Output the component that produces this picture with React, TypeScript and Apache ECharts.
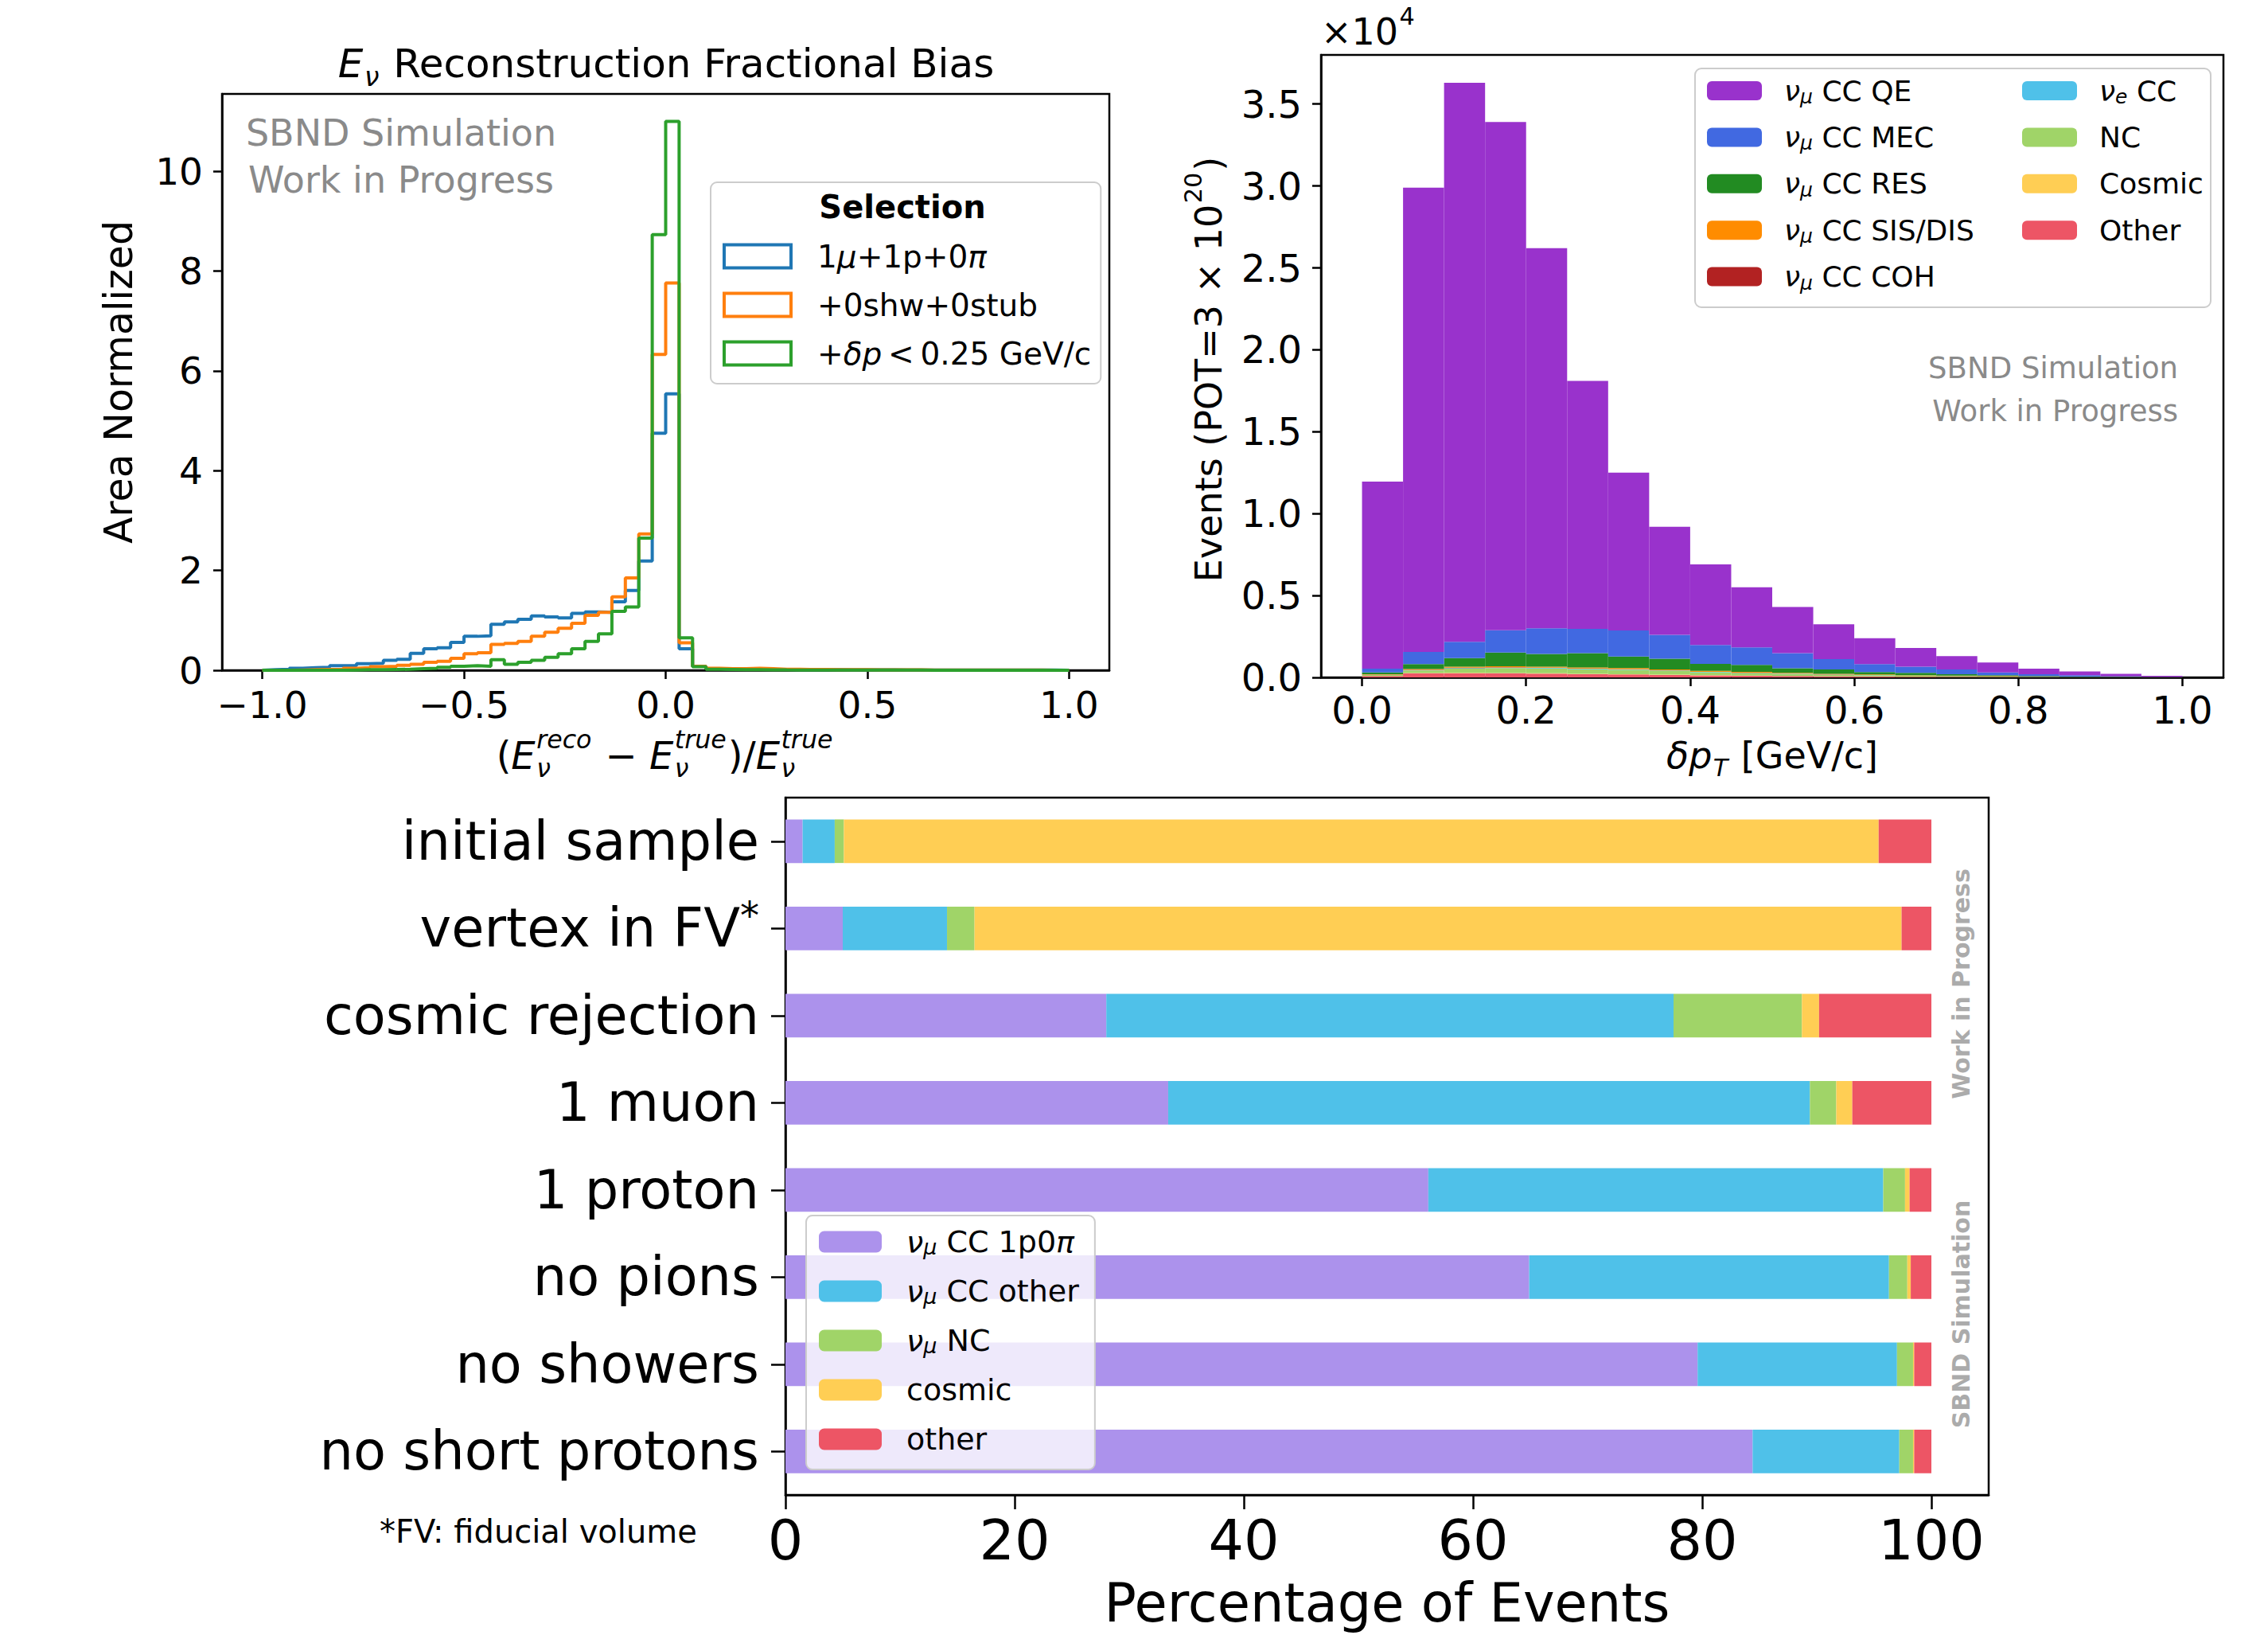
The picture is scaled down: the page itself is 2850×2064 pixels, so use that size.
import React, { useEffect, useRef } from 'react';
import * as echarts from 'echarts';

const FONT = 'DejaVu Sans';

// ---------- Top-left: E_nu reconstruction fractional bias (step histograms) ----------
const BIAS_MIN = -1;
const BIAS_WIDTH = 1 / 30;
const biasNames = ['1μ+1p+0π', '+0shw+0stub', '+δp < 0.25 GeV/c'];
const biasColors = ['#1f77b4', '#ff7f0e', '#2ca02c'];
const biasSel1 = [
  0.01, 0.02, 0.04, 0.05, 0.06, 0.09, 0.09, 0.13, 0.14, 0.20,
  0.22, 0.34, 0.43, 0.45, 0.56, 0.68, 0.69, 0.92, 0.97, 1.02,
  1.09, 1.07, 1.05, 1.14, 1.17, 1.16, 1.37, 1.60, 2.19, 4.75,
  5.54, 0.43, 0.08, 0.03, 0.02, 0.02, 0.02, 0.015, 0.015, 0.01,
  0.01, 0.01, 0.01, 0.008, 0.008, 0.006, 0.006, 0.005, 0.005, 0.005,
  0.004, 0.004, 0.003, 0.003, 0.003, 0.002, 0.002, 0.002, 0.002, 0.001,
];
const biasSel2 = [
  0, 0, 0.005, 0.01, 0.015, 0.02, 0.04, 0.05, 0.07, 0.08,
  0.10, 0.12, 0.16, 0.18, 0.24, 0.33, 0.35, 0.52, 0.54, 0.58,
  0.68, 0.76, 0.84, 0.94, 1.10, 1.16, 1.47, 1.85, 2.73, 6.33,
  7.76, 0.55, 0.08, 0.04, 0.03, 0.03, 0.04, 0.03, 0.02, 0.02,
  0.015, 0.015, 0.01, 0.01, 0.01, 0.008, 0.008, 0.006, 0.006, 0.005,
  0.005, 0.004, 0.004, 0.003, 0.003, 0.002, 0.002, 0.002, 0.001, 0.001,
];
const biasSel3 = [
  0, 0, 0, 0, 0, 0, 0.005, 0.01, 0.01, 0.015,
  0.02, 0.03, 0.04, 0.06, 0.08, 0.09, 0.08, 0.21, 0.12, 0.16,
  0.20, 0.26, 0.33, 0.43, 0.58, 0.73, 1.18, 1.27, 2.65, 8.73,
  11.0, 0.65, 0.07, 0.02, 0.015, 0.01, 0.01, 0.008, 0.006, 0.005,
  0.005, 0.004, 0.004, 0.003, 0.003, 0.002, 0.002, 0.002, 0.002, 0.001,
  0.001, 0.001, 0.001, 0.001, 0.001, 0, 0, 0, 0, 0,
];
const biasXTicks = [-1, -0.5, 0, 0.5, 1];
const biasYTicks = [0, 2, 4, 6, 8, 10];

// ---------- Top-right: delta pT stacked histogram (x10^4 events) ----------
const DPT_MIN = -0.05;
const DPT_WIDTH = 0.05;
const dptQE = [1.142, 2.834, 3.413, 3.103, 2.320, 1.514, 0.963, 0.660, 0.493, 0.366, 0.282, 0.213, 0.158, 0.114, 0.081, 0.061, 0.034, 0.023, 0.015, 0.007];
const dptMEC = [0.024, 0.074, 0.099, 0.136, 0.157, 0.148, 0.159, 0.145, 0.115, 0.107, 0.092, 0.063, 0.049, 0.038, 0.029, 0.017, 0.012, 0.008, 0.004, 0.001];
const dptRES = [0.011, 0.031, 0.053, 0.083, 0.077, 0.087, 0.071, 0.066, 0.042, 0.043, 0.028, 0.027, 0.015, 0.014, 0.009, 0.005, 0.0025, 0.001, 0.0005, 0.0005];
const dptSIS = [0.002, 0.005, 0.006, 0.007, 0.007, 0.007, 0.007, 0.006, 0.006, 0.005, 0.005, 0.004, 0.003, 0.003, 0.002, 0.0015, 0.001, 0.0008, 0.0005, 0.0003];
const dptCOH = [0.001, 0.002, 0.002, 0.0015, 0.001, 0.001, 0.0008, 0.0006, 0.0005, 0.0004, 0.0003, 0.0002, 0.0002, 0.0001, 0.0001, 0.0001, 0, 0, 0, 0];
const dptNUE = [0.001, 0.002, 0.003, 0.003, 0.003, 0.003, 0.003, 0.003, 0.0025, 0.002, 0.002, 0.0015, 0.0015, 0.001, 0.001, 0.0008, 0.0006, 0.0004, 0.0003, 0.0002];
const dptNC = [0.006, 0.015, 0.026, 0.030, 0.030, 0.028, 0.026, 0.022, 0.018, 0.015, 0.012, 0.009, 0.007, 0.005, 0.004, 0.003, 0.002, 0.0015, 0.001, 0.0005];
const dptCosmic = [0.001, 0.002, 0.002, 0.002, 0.002, 0.002, 0.002, 0.002, 0.0015, 0.0015, 0.001, 0.001, 0.001, 0.0008, 0.0006, 0.0005, 0.0004, 0.0003, 0.0002, 0.0001];
const dptOther = [0.008, 0.025, 0.026, 0.025, 0.023, 0.020, 0.018, 0.015, 0.012, 0.010, 0.008, 0.006, 0.005, 0.004, 0.003, 0.002, 0.0015, 0.001, 0.0008, 0.0004];
// stacking order bottom -> top
const dptLayerNames = ['Other', 'Cosmic', 'NC', 'νe CC', 'νμ CC COH', 'νμ CC SIS/DIS', 'νμ CC RES', 'νμ CC MEC', 'νμ CC QE'];
const dptLayerValues = [dptOther, dptCosmic, dptNC, dptNUE, dptCOH, dptSIS, dptRES, dptMEC, dptQE];
const dptLayerColors = ['#ED5565', '#FFCE54', '#A0D468', '#4FC1E9', '#B22222', '#FF8C00', '#228B22', '#4169E1', '#9932CC'];
const dptLegendA = ['νμ CC QE', 'νμ CC MEC', 'νμ CC RES', 'νμ CC SIS/DIS', 'νμ CC COH'];
const dptLegendB = ['νe CC', 'NC', 'Cosmic', 'Other'];
const dptXTicks = [0, 0.2, 0.4, 0.6, 0.8, 1.0];
const dptYTicks = [0, 0.5, 1.0, 1.5, 2.0, 2.5, 3.0, 3.5];

// ---------- Bottom: selection cut flow (percentage) ----------
const cutNames = ['initial sample', 'vertex in FV*', 'cosmic rejection', '1 muon', '1 proton', 'no pions', 'no showers', 'no short protons'];
const frac1p0pi = [1.5, 5.0, 28.0, 33.4, 56.1, 64.9, 79.6, 84.4];
const fracCCOther = [2.8, 9.1, 49.5, 56.0, 39.7, 31.4, 17.4, 12.8];
const fracNC = [0.8, 2.4, 11.2, 2.3, 1.9, 1.6, 1.4, 1.2];
const fracCosmic = [90.3, 80.9, 1.5, 1.4, 0.4, 0.3, 0.1, 0.1];
const fracOther = [4.6, 2.6, 9.8, 6.9, 1.9, 1.8, 1.5, 1.5];
const fracNames = ['νμ CC 1p0π', 'νμ CC other', 'νμ NC', 'cosmic', 'other'];
const fracColors = ['#AC92EC', '#4FC1E9', '#A0D468', '#FFCE54', '#ED5565'];
const fracValues = [frac1p0pi, fracCCOther, fracNC, fracCosmic, fracOther];
const fracXTicks = [0, 20, 40, 60, 80, 100];

// ---------- helpers ----------
let measureCtx: CanvasRenderingContext2D | null = null;
function fontStr(size: number, it = false, bold = false) {
  return `${it ? 'italic ' : ''}${bold ? 'bold ' : ''}${size}px "${FONT}"`;
}
function tw(t: string, size: number, it = false, bold = false): number {
  if (!measureCtx) measureCtx = document.createElement('canvas').getContext('2d');
  if (!measureCtx) return t.length * size * 0.6;
  measureCtx.font = fontStr(size, it, bold);
  return measureCtx.measureText(t).width;
}
function txt(text: string, x: number, y: number, size: number, o: any = {}) {
  const align = o.align || 'left';
  return {
    type: 'text',
    x,
    y,
    z: o.z ?? 10,
    rotation: o.rot || 0,
    style: {
      text,
      font: fontStr(size, !!o.it, !!o.bold),
      fill: o.color || '#000',
      textAlign: align,
      align,
      textVerticalAlign: 'middle',
      verticalAlign: 'middle',
    },
  };
}
type Piece = { t?: string; it?: boolean; bold?: boolean; sup?: string; sub?: string; supIt?: boolean; subIt?: boolean };
function mathText(pieces: Piece[], cx: number, cy: number, fs: number, o: any = {}) {
  const color = o.color || '#000';
  const sm = fs * 0.66;
  const kids: any[] = [];
  let x = 0;
  for (const p of pieces) {
    if (p.t) {
      kids.push(txt(p.t, x, 0, fs, { it: p.it, bold: p.bold, color }));
      x += tw(p.t, fs, !!p.it, !!p.bold);
    }
    if (p.sup || p.sub) {
      const x1 = x + fs * 0.03;
      let w = 0;
      if (p.sup) {
        kids.push(txt(p.sup, x1, -0.42 * fs, sm, { it: p.supIt, color }));
        w = Math.max(w, tw(p.sup, sm, !!p.supIt));
      }
      if (p.sub) {
        kids.push(txt(p.sub, x1, 0.33 * fs, sm, { it: p.subIt, color }));
        w = Math.max(w, tw(p.sub, sm, !!p.subIt));
      }
      x = x1 + w + fs * 0.04;
    }
  }
  const off = o.align === 'left' ? 0 : o.align === 'right' ? -x : -x / 2;
  kids.forEach((k) => { k.x += off; });
  return { type: 'group', x: cx, y: cy, rotation: o.rot || 0, children: kids };
}
function stepData(vals: number[], x0: number, w: number) {
  const pts: number[][] = [[x0, 0]];
  vals.forEach((v, i) => pts.push([x0 + i * w, v]));
  const xe = x0 + vals.length * w;
  pts.push([xe, vals[vals.length - 1]]);
  pts.push([xe, 0]);
  return pts;
}
const richMap: Record<string, string> = {
  '1μ+1p+0π': '1{i|μ}+1p+0{i|π}',
  '+0shw+0stub': '+0shw+0stub',
  '+δp < 0.25 GeV/c': '+{i|δp}\u2009<\u20090.25 GeV/c',
};
function richName(name: string) {
  if (richMap[name]) return richMap[name];
  let s = name;
  if (s.startsWith('νμ')) s = '{i|ν}{s|μ}' + s.slice(2);
  else if (s.startsWith('νe')) s = '{i|ν}{s|e}' + s.slice(2);
  s = s.replace('1p0π', '1p0{i|π}');
  return s;
}
function legendRich(fs: number, lh: number) {
  return {
    i: { fontStyle: 'italic', fontSize: fs, fontFamily: FONT, color: '#000', lineHeight: lh },
    s: { fontStyle: 'italic', fontSize: Math.round(fs * 0.7), fontFamily: FONT, color: '#000', verticalAlign: 'bottom', lineHeight: Math.round(fs * 0.5) },
  };
}

const black = '#000';
const axisLine = { show: true, onZero: false, lineStyle: { color: black, width: 2.5 } };

function buildOption() {
  const dptCats = Array.from({ length: 22 }, (_, i) => (DPT_MIN + i * DPT_WIDTH).toFixed(2));
  const biasSeries = [biasSel1, biasSel2, biasSel3].map((vals, i) => ({
    type: 'line',
    name: biasNames[i],
    xAxisIndex: 0,
    yAxisIndex: 0,
    step: 'end',
    symbol: 'none',
    showSymbol: false,
    data: stepData(vals, BIAS_MIN, BIAS_WIDTH),
    lineStyle: { color: biasColors[i], width: 4 },
    itemStyle: { color: biasColors[i] },
    z: 3 + i,
  }));
  const dptSeries = dptLayerValues.map((vals, i) => ({
    type: 'bar',
    name: dptLayerNames[i],
    xAxisIndex: 2,
    yAxisIndex: 1,
    stack: 'dpt',
    barWidth: '100%',
    barCategoryGap: '0%',
    data: ['-', ...vals, '-'],
    itemStyle: { color: dptLayerColors[i] },
  }));
  const fracSeries = fracValues.map((vals, i) => ({
    type: 'bar',
    name: fracNames[i],
    xAxisIndex: 3,
    yAxisIndex: 2,
    stack: 'frac',
    barWidth: '50%',
    data: vals,
    itemStyle: { color: fracColors[i] },
  }));

  const tickLbl = (fs: number, margin: number, fmt: any, vals: number[]) => ({
    customValues: vals, fontSize: fs, color: black, margin, formatter: fmt, fontFamily: FONT,
  });
  const tick = (len: number, vals?: number[]) => ({
    show: true, length: len, lineStyle: { color: black, width: 2.5 }, ...(vals ? { customValues: vals } : {}),
  });
  const minus = (v: number) => (v < 0 ? '−' : '') + Math.abs(v).toFixed(1);

  const gridBase = { show: true, borderColor: black, borderWidth: 2.5, backgroundColor: 'transparent', containLabel: false };

  const graphic: any[] = [
    // top-left
    mathText([{ t: 'E', it: true, sub: 'ν', subIt: true }, { t: ' Reconstruction Fractional Bias' }], 837, 80, 50),
    mathText([
      { t: '(' }, { t: 'E', it: true, sup: 'reco', supIt: true, sub: 'ν', subIt: true },
      { t: ' − ' }, { t: 'E', it: true, sup: 'true', supIt: true, sub: 'ν', subIt: true },
      { t: ')/' }, { t: 'E', it: true, sup: 'true', supIt: true, sub: 'ν', subIt: true },
    ], 836, 949, 48),
    mathText([{ t: 'Area Normalized' }], 149, 480, 49, { rot: Math.PI / 2 }),
    txt('SBND Simulation', 504, 167, 46, { color: '#8a8a8a', align: 'center' }),
    txt('Work in Progress', 504, 226, 46, { color: '#8a8a8a', align: 'center' }),
    txt('Selection', 1134, 260, 40, { bold: true, align: 'center', z: 20 }),
    // top-right
    mathText([{ t: '×10', sup: '4' }], 1660, 40, 46, { align: 'left' }),
    mathText([{ t: 'δp', it: true, sub: 'T', subIt: true }, { t: ' [GeV/c]' }], 2227, 949, 46),
    mathText([{ t: 'Events (POT=3 × 10', sup: '20' }, { t: ')' }], 1519, 464, 46, { rot: Math.PI / 2 }),
    {
      type: 'rect', z: 1,
      shape: { x: 2130, y: 86, width: 648, height: 300, r: 8 },
      style: { fill: '#fff', stroke: '#cccccc', lineWidth: 2 },
    },
    txt('SBND Simulation', 2737, 462, 37, { color: '#8a8a8a', align: 'right' }),
    txt('Work in Progress', 2737, 516, 37, { color: '#8a8a8a', align: 'right' }),
    // bottom
    txt('Work in Progress', 2464, 1236, 30, { color: '#ababab', bold: true, align: 'center', rot: Math.PI / 2 }),
    txt('SBND Simulation', 2464, 1651, 30, { color: '#ababab', bold: true, align: 'center', rot: Math.PI / 2 }),
    txt('*FV: fiducial volume', 477, 1924, 40, { align: 'left' }),
  ];

  return {
    animation: false,
    backgroundColor: '#fff',
    textStyle: { fontFamily: FONT },
    graphic: { elements: graphic },
    grid: [
      { ...gridBase, left: 279, top: 118, width: 1115, height: 724 },
      { ...gridBase, left: 1660, top: 69, width: 1134, height: 782 },
      { ...gridBase, left: 987, top: 1002, width: 1512, height: 876 },
    ],
    xAxis: [
      {
        gridIndex: 0, type: 'value', min: -1.1, max: 1.1,
        axisLine, axisTick: tick(11, biasXTicks), splitLine: { show: false },
        axisLabel: tickLbl(47, 20, minus, biasXTicks),
      },
      {
        gridIndex: 1, type: 'value', min: -0.05, max: 1.05,
        axisLine, axisTick: tick(11, dptXTicks), splitLine: { show: false },
        axisLabel: tickLbl(48, 17, (v: number) => v.toFixed(1), dptXTicks),
      },
      { gridIndex: 1, type: 'category', data: dptCats, show: false, boundaryGap: true },
      {
        gridIndex: 2, type: 'value', min: 0, max: 105,
        axisLine, axisTick: tick(18, fracXTicks), splitLine: { show: false },
        axisLabel: tickLbl(70, 22, (v: number) => String(v), fracXTicks),
        name: 'Percentage of Events', nameLocation: 'middle', nameGap: 102,
        nameTextStyle: { fontSize: 67, color: black, fontFamily: FONT },
      },
    ],
    yAxis: [
      {
        gridIndex: 0, type: 'value', min: 0, max: 11.55,
        axisLine, axisTick: tick(11, biasYTicks), splitLine: { show: false },
        axisLabel: tickLbl(47, 24, (v: number) => String(v), biasYTicks),
      },
      {
        gridIndex: 1, type: 'value', min: 0, max: 3.8,
        axisLine, axisTick: tick(11, dptYTicks), splitLine: { show: false },
        axisLabel: tickLbl(48, 24, (v: number) => v.toFixed(1), dptYTicks),
      },
      {
        gridIndex: 2, type: 'category', data: cutNames, inverse: true,
        axisLine, splitLine: { show: false },
        axisTick: { show: true, alignWithLabel: true, length: 18, lineStyle: { color: black, width: 2.5 } },
        axisLabel: {
          fontSize: 67, color: black, margin: 33, interval: 0, fontFamily: FONT, lineHeight: 80,
          formatter: (v: string) => (v.endsWith('*') ? v.slice(0, -1) + '{sup|*}' : v),
          rich: { sup: { fontSize: 48, color: black, fontFamily: FONT, verticalAlign: 'top', lineHeight: 44 } },
        },
      },
    ],
    legend: [
      {
        orient: 'vertical', left: 893, top: 229,
        padding: [73, 12, 18, 15], itemWidth: 84, itemHeight: 29, itemGap: 21,
        backgroundColor: '#fff', borderColor: '#cccccc', borderWidth: 2, borderRadius: 8,
        selectedMode: false,
        data: biasNames.map((n, i) => ({ name: n, icon: 'rect', itemStyle: { color: '#fff', borderColor: biasColors[i], borderWidth: 4 } })),
        formatter: richName,
        textStyle: { fontSize: 39, lineHeight: 40, color: black, fontFamily: FONT, padding: [0, 0, 0, 28], rich: legendRich(39, 40) },
      },
      {
        orient: 'vertical', left: 2145, top: 94, padding: 0,
        itemWidth: 69, itemHeight: 24, itemGap: 18.4, selectedMode: false,
        data: dptLegendA, formatter: richName,
        textStyle: { fontSize: 36, lineHeight: 40, color: black, fontFamily: FONT, padding: [0, 0, 0, 23], rich: legendRich(36, 40) },
      },
      {
        orient: 'vertical', left: 2541, top: 94, padding: 0,
        itemWidth: 69, itemHeight: 24, itemGap: 18.4, selectedMode: false,
        data: dptLegendB, formatter: richName,
        textStyle: { fontSize: 36, lineHeight: 40, color: black, fontFamily: FONT, padding: [0, 0, 0, 23], rich: legendRich(36, 40) },
      },
      {
        orient: 'vertical', left: 1013, top: 1527,
        padding: [13, 20, 18, 16], itemWidth: 79, itemHeight: 27, itemGap: 22,
        backgroundColor: 'rgba(255,255,255,0.8)', borderColor: '#cccccc', borderWidth: 2, borderRadius: 8,
        selectedMode: false,
        data: fracNames, formatter: richName,
        textStyle: { fontSize: 38, lineHeight: 40, color: black, fontFamily: FONT, padding: [0, 0, 0, 26], rich: legendRich(38, 40) },
      },
    ],
    series: [...biasSeries, ...dptSeries, ...fracSeries],
  };
}

export default function App() {
  const ref = useRef<HTMLDivElement>(null);
  useEffect(() => {
    document.body.style.margin = '0';
    const chart = echarts.init(ref.current as HTMLDivElement, null, { renderer: 'svg' });
    chart.setOption(buildOption() as any);
    return () => chart.dispose();
  }, []);
  return <div ref={ref} style={{ width: 2850, height: 2064 }} />;
}
